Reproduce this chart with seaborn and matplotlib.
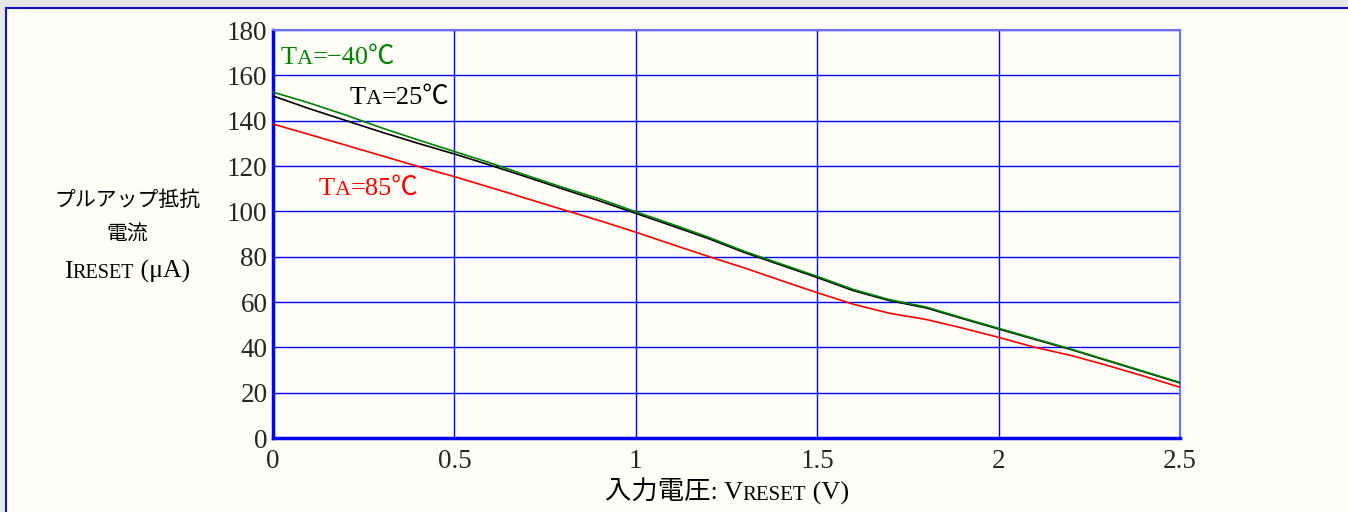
import numpy as np
import pandas as pd
import matplotlib
matplotlib.use("Agg")
import matplotlib.pyplot as plt
import seaborn as sns
from matplotlib.patches import Rectangle
from matplotlib.offsetbox import TextArea, HPacker, VPacker, AnnotationBbox

# Pull-up resistor current vs input voltage
v_reset = [0.0, 0.1, 0.2, 0.3, 0.4, 0.5, 0.6, 0.7, 0.8, 0.9, 1.0, 1.1, 1.2,
           1.3, 1.4, 1.5, 1.6, 1.7, 1.8, 1.9, 2.0, 2.1, 2.2, 2.3, 2.4, 2.5]
i_m40 = [152.6, 147.8, 142.5, 136.8, 131.5, 126.4, 121.3, 115.8, 110.5, 105.5,
         99.8, 94.3, 88.6, 82.3, 76.8, 71.3, 65.5, 61.0, 57.8, 53.0,
         48.4, 43.8, 39.2, 34.3, 29.4, 24.5]
i_25 = [150.9, 145.3, 140.1, 134.9, 130.0, 125.3, 120.3, 115.1, 109.8, 104.6,
        99.1, 93.6, 88.0, 81.8, 76.3, 70.8, 65.0, 60.6, 57.4, 52.7,
        48.1, 43.5, 39.0, 34.1, 29.2, 24.3]
i_85 = [138.5, 133.9, 129.2, 124.5, 119.8, 115.3, 110.5, 105.6, 100.7, 95.9,
        90.8, 85.4, 80.1, 75.0, 69.5, 64.1, 59.0, 55.0, 52.3, 48.5,
        44.4, 40.0, 36.4, 32.0, 27.3, 22.4]

x_ticks = [0, 0.5, 1, 1.5, 2, 2.5]
x_ticklabels = ["0", "0.5", "1", "1.5", "2", "2.5"]
y_ticks = [0, 20, 40, 60, 80, 100, 120, 140, 160, 180]

sns.set_style("white")
FONT = ["Liberation Serif", "Noto Sans CJK JP", "DejaVu Serif"]
plt.rcParams["font.family"] = FONT

BG = "#fefef6"
BLUE = "#0000ff"

df = pd.DataFrame({"V": v_reset * 3,
                   "I": i_85 + i_25 + i_m40,
                   "TA": ["85"] * len(v_reset) + ["25"] * len(v_reset) + ["-40"] * len(v_reset)})

fig = plt.figure(figsize=(13.48, 5.12), dpi=100, facecolor="#e6e6e6")
# cream panel with blue frame, behind everything else
panel = Rectangle((6 / 1348, -0.01), 1.0, 1 - 8 / 512 + 0.01,
                  transform=fig.transFigure, facecolor=BG,
                  edgecolor="#1010c0", linewidth=1.5, zorder=-10)
fig.patches.append(panel)

ax = fig.add_axes([273 / 1348, 1 - 438 / 512, (1180 - 273) / 1348, (438 - 30) / 512])
ax.set_facecolor(BG)

sns.lineplot(data=df, x="V", y="I", hue="TA",
             palette={"85": "#ff0000", "25": "#000000", "-40": "#008000"},
             linewidth=1.2, legend=False, ax=ax, zorder=3)

ax.set_xlim(0, 2.5)
ax.set_ylim(0, 180)
ax.set_xticks(x_ticks)
ax.set_xticklabels(x_ticklabels)
ax.set_yticks(y_ticks)
ax.grid(True, color=BLUE, linewidth=1.0)
ax.tick_params(length=0, labelsize=19.5)
ax.tick_params(axis="x", pad=8)
ax.tick_params(axis="y", pad=4)
ax.set_xlabel("")
ax.set_ylabel("")

for side in ["left", "bottom"]:
    ax.spines[side].set_color(BLUE)
    ax.spines[side].set_linewidth(2.5)
for side in ["top", "right"]:
    ax.spines[side].set_color("#7070ff")
    ax.spines[side].set_linewidth(1.5)


def mixed(parts, color="#000000"):
    # pieces of text with different sizes on one baseline (small caps look)
    boxes = [TextArea(t, textprops=dict(fontsize=s, color=color, family=FONT))
             for t, s in parts]
    return HPacker(children=boxes, align="baseline", pad=0, sep=0)


def place(box, xy, coords, align=(0, 0.5)):
    ab = AnnotationBbox(box, xy, xycoords=coords, frameon=False,
                        box_alignment=align, pad=0)
    ab.set_zorder(5)
    return ab


# series labels
ax.add_artist(place(mixed([("T", 19), ("A", 16), ("=−40℃", 19)], "#008000"),
                    (0.02, 167.5), "data"))
ax.add_artist(place(mixed([("T", 19), ("A", 16), ("=25℃", 19)], "#000000"),
                    (0.21, 150), "data"))
ax.add_artist(place(mixed([("T", 19), ("A", 16), ("=85℃", 19)], "#ff0000"),
                    (0.125, 110), "data"))

# y axis title
ylab = VPacker(children=[mixed([("プルアップ抵抗", 15)]),
                         mixed([("電流", 15)]),
                         mixed([("I", 18.5), ("RESET", 14.5), (" (μA)", 18.5)])],
               align="center", pad=0, sep=11)
fig.add_artist(place(ylab, (127 / 1348, 1 - 237 / 512), "figure fraction", (0.5, 0.5)))

# x axis title
xlab = mixed([("入力電圧: V", 19), ("RESET", 15), (" (V)", 19)])
fig.add_artist(place(xlab, (727 / 1348, 1 - 493 / 512), "figure fraction", (0.5, 0.5)))

fig.savefig("out.png", dpi=100, facecolor=fig.get_facecolor())
